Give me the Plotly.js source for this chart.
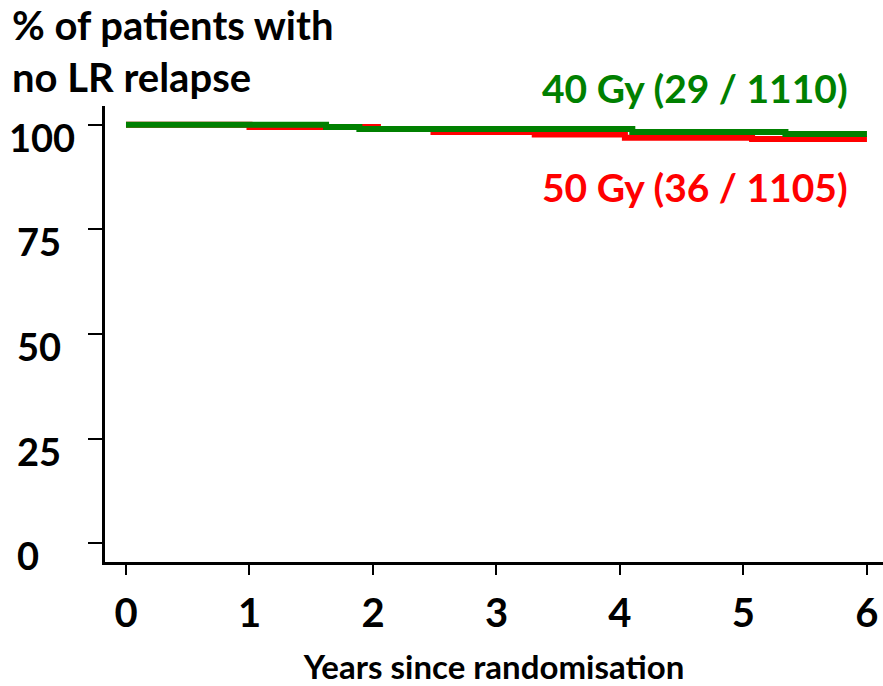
<!DOCTYPE html>
<html><head><meta charset="utf-8">
<script src="https://cdn.plot.ly/plotly-3.0.1.min.js"></script>
<style>html,body{margin:0;padding:0;background:#fff}#chart{width:883px;height:686px}</style>
</head><body><div id="chart"></div>
<script>
// Kaplan-Meier style step data (years, % free of LR relapse)
const timeGy40 = [0, 1.62, 1.89, 4.10, 5.34, 6.0];
const survGy40 = [100, 99.5, 99.0, 98.3, 97.8, 97.8];
const timeGy50 = [0, 1.00, 2.04, 2.49, 3.31, 4.04, 5.07, 6.0];
const survGy50 = [100, 99.5, 99.0, 98.3, 97.7, 96.9, 96.6, 96.6];
const xTickVals = [0, 1, 2, 3, 4, 5, 6];
const xTickText = ['0', '1', '2', '3', '4', '5', '6'];
const yTickVals = [0, 25, 50, 75, 100];
const yTickText = ['0', '25', '50', '75', '100'];
const labelGy40 = '40 Gy (29 / 1110)';
const labelGy50 = '50 Gy (36 / 1105)';
const titleLines = ['% of patients with', 'no LR relapse'];
const xTitle = 'Years since randomisation';

const FONT = 'Lato, "Open Sans", sans-serif';
const GREEN = '#008000', RED = '#ff0000';

const traces = [
  {x: timeGy50, y: survGy50, mode: 'lines', line: {shape: 'hv', color: RED, width: 6}, name: '50 Gy', hoverinfo: 'x+y'},
  {x: timeGy40, y: survGy40, mode: 'lines', line: {shape: 'hv', color: GREEN, width: 6}, name: '40 Gy', hoverinfo: 'x+y'}
];

const PLOT_W = 778, PLOT_L = 105;
const yLabelAnn = yTickVals.map((v, i) => ({
  xref: 'paper', yref: 'y', x: ((yTickText[i].length > 2 ? 7 : 15) - PLOT_L) / PLOT_W,
  y: v, xanchor: 'left', yanchor: 'middle', yshift: -12, showarrow: false,
  text: '<b>' + yTickText[i] + '</b>', font: {family: FONT, size: 38, color: '#000'}
}));

const layout = {
  width: 883, height: 686,
  margin: {l: 105, r: 0, t: 106, b: 124},
  paper_bgcolor: '#fff', plot_bgcolor: '#fff',
  showlegend: false,
  font: {family: FONT, color: '#000'},
  title: {
    text: '<b>' + titleLines.join('<br>') + '</b>',
    xref: 'container', x: 12 / 883, xanchor: 'left',
    yref: 'container', y: 1 - 40 / 686, yanchor: 'middle',
    font: {family: FONT, size: 40, color: '#000'}
  },
  xaxis: {
    range: [-0.17, 6.13], tickvals: xTickVals, ticktext: xTickText.map(t => '<b>' + t + '</b>'),
    ticks: 'outside', ticklen: 10, tickwidth: 2, tickcolor: '#000',
    showline: true, linewidth: 3, linecolor: '#000', showgrid: false, zeroline: false,
    tickfont: {family: FONT, size: 40, color: '#000'}, ticklabelstandoff: 4,
    title: {text: '<b>' + xTitle + '</b>', font: {family: FONT, size: 33, color: '#000'}, standoff: 22}
  },
  yaxis: {
    range: [-4.5, 104.5], tickvals: yTickVals, showticklabels: false,
    ticks: 'outside', ticklen: 14, tickwidth: 2, tickcolor: '#000',
    showline: true, linewidth: 3, linecolor: '#000', showgrid: false, zeroline: false
  },
  annotations: yLabelAnn.concat([
    {xref: 'paper', yref: 'paper', x: (540 - PLOT_L) / PLOT_W, y: (562 - 88) / 456, xanchor: 'left', yanchor: 'middle', showarrow: false,
     text: '<b>' + labelGy40 + '</b>', font: {family: FONT, size: 39, color: GREEN}},
    {xref: 'paper', yref: 'paper', x: (540 - PLOT_L) / PLOT_W, y: (562 - 187) / 456, xanchor: 'left', yanchor: 'middle', showarrow: false,
     text: '<b>' + labelGy50 + '</b>', font: {family: FONT, size: 39, color: RED}}
  ])
};

Plotly.newPlot('chart', traces, layout, {displayModeBar: false, staticPlot: true});
</script></body></html>
